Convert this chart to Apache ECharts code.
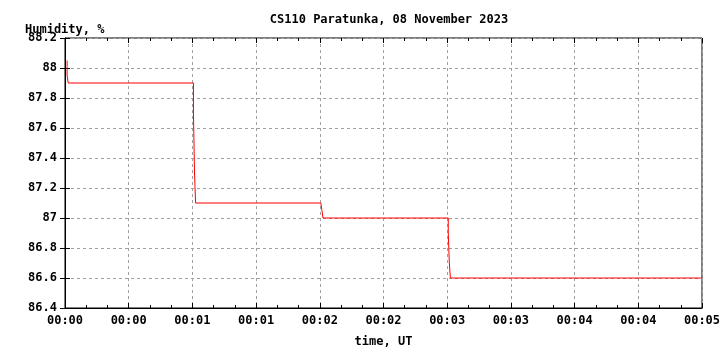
<!DOCTYPE html>
<html>
<head>
<meta charset="utf-8">
<script src="https://cdn.jsdelivr.net/npm/echarts@6/dist/echarts.min.js"></script>
<style>
	html, body { margin: 0; padding: 0; background: #fff; }
	#chart1 { width: 720px; height: 350px; }
</style>
</head>
<body>
<div id="chart1"></div>
<script>
//时间单位：秒（从 00:00:00 起）
var times = [1, 1, 1.5, 1.5, 60.5, 60.5, 61, 61, 61.5, 61.5, 120.5, 121, 121.5, 180.5, 180.5, 181, 181, 181.5, 181.5, 300];
//湿度 %
var humidity = [88.05, 87.95, 87.95, 87.9, 87.9, 87.7, 87.7, 87.3, 87.3, 87.1, 87.1, 87.05, 87.0, 87.0, 86.9, 86.9, 86.7, 86.7, 86.6, 86.6];

//横轴刻度文字，每 30 秒一个
var tickLabels = ["00:00", "00:00", "00:01", "00:01", "00:02", "00:02", "00:03", "00:03", "00:04", "00:04", "00:05"];

var font = "DejaVu Sans Mono";

var points = [];
for (let i = 0; i < times.length; i++) {
	points.push([times[i], humidity[i]]);
}

var chart = echarts.init(document.getElementById("chart1"));

//网格虚线
var gridLine = {
	show: true,
	lineStyle: { color: "#a0a0a0", type: [3, 3], width: 1 }
};

var option = {
	animation: false,
	backgroundColor: "#fff",
	textStyle: { fontFamily: font },
	title: [{
		text: "CS110 Paratunka, 08 November 2023",
		left: 384,
		textAlign: "center",
		top: 9,
		textStyle: { fontFamily: font, fontSize: 12, fontWeight: "bold", color: "#000" }
	}, {
		text: "Humidity, %",
		left: 20,
		top: 19,
		textStyle: { fontFamily: font, fontSize: 12, fontWeight: "bold", color: "#000" }
	}],
	grid: {
		left: 65,
		right: 18,
		top: 38,
		bottom: 42,
		outerBoundsMode: "none",
		containLabel: false,
		show: true,
		borderColor: "#000",
		borderWidth: 1,
		backgroundColor: "transparent"
	},
	xAxis: [{
		type: "value",
		min: 0,
		max: 300,
		interval: 30,
		name: "time, UT",
		nameLocation: "middle",
		nameGap: 28,
		nameTextStyle: { fontFamily: font, fontSize: 12, fontWeight: "bold", color: "#000" },
		axisLine: { show: true, onZero: false, lineStyle: { color: "#000", width: 1 } },
		axisTick: { show: true, inside: true, length: 5, lineStyle: { color: "#000" } },
		minorTick: { show: true, splitNumber: 3, length: 3, lineStyle: { color: "#000" } },
		axisLabel: {
			margin: 7,
			fontFamily: font,
			fontSize: 12,
			fontWeight: "bold",
			color: "#000",
			formatter: function (v) {
				return tickLabels[Math.round(v / 30)];
			}
		},
		splitLine: gridLine
	}, {
		//上边框刻度
		type: "value",
		position: "top",
		min: 0,
		max: 300,
		interval: 30,
		axisLine: { show: false },
		axisTick: { show: true, inside: true, length: 5, lineStyle: { color: "#000" } },
		minorTick: { show: true, splitNumber: 3, length: 3, lineStyle: { color: "#000" } },
		axisLabel: { show: false },
		splitLine: { show: false }
	}],
	yAxis: [{
		type: "value",
		min: 86.4,
		max: 88.2,
		interval: 0.2,
		axisLine: { show: true, lineStyle: { color: "#000", width: 1 } },
		axisTick: { show: true, inside: true, length: 5, lineStyle: { color: "#000" } },
		axisLabel: {
			margin: 8,
			fontFamily: font,
			fontSize: 12,
			fontWeight: "bold",
			color: "#000",
			formatter: function (v) {
				return String(parseFloat(v.toFixed(1)));
			}
		},
		splitLine: gridLine
	}, {
		//右边框刻度
		type: "value",
		position: "right",
		min: 86.4,
		max: 88.2,
		interval: 0.2,
		axisLine: { show: false },
		axisTick: { show: true, inside: true, length: 5, lineStyle: { color: "#000" } },
		axisLabel: { show: false },
		splitLine: { show: false }
	}],
	series: [{
		type: "line",
		name: "Humidity",
		xAxisIndex: 0,
		yAxisIndex: 0,
		data: points,
		showSymbol: false,
		symbol: "none",
		lineStyle: { color: "#ff0000", width: 1 },
		itemStyle: { color: "#ff0000" }
	}]
};

window.onload = function () {
	chart.setOption(option);
};
</script>
</body>
</html>
